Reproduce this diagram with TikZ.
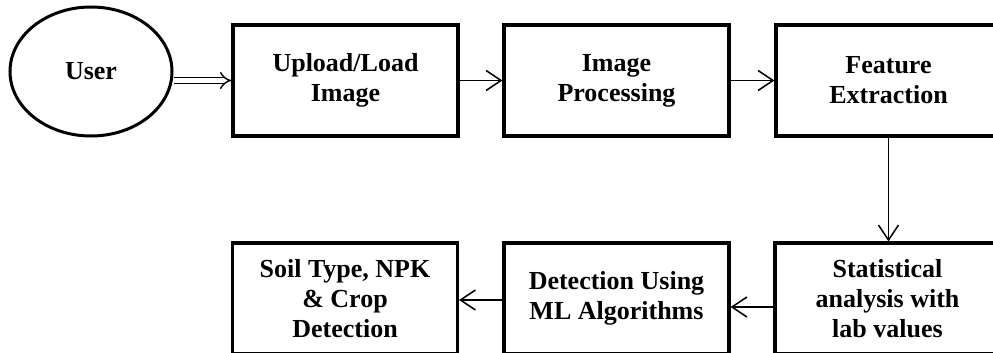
\documentclass[tikz,border=0pt]{standalone}
\usepackage{fontspec}
\setmainfont{Liberation Serif}
\usetikzlibrary{arrows.meta,shapes.geometric}
\begin{document}
\begin{tikzpicture}[x=1pt,y=-1pt,
  stepbox/.style={draw,line width=3.2pt,rectangle,minimum width=225pt,minimum height=111pt,inner sep=0pt,
    align=center,font=\fontsize{26}{30}\selectfont\bfseries},
  userell/.style={draw,line width=3pt,ellipse,minimum width=162pt,minimum height=129pt,inner sep=0pt,
    font=\fontsize{26}{30}\selectfont\bfseries},
  arr/.style={line width=1.5pt,-{Straight Barb[length=15pt,width=20pt,line width=1.5pt]}},
  dblarr/.style={double,double distance=4.5pt,line width=1.4pt,-{Implies[length=8pt]}}]
\useasboundingbox (0,0) rectangle (993,353);
\clip (0,0) rectangle (993,353);
\node[userell] (user) at (91,71.5) {User};
\node[stepbox] (upload) at (345.5,80.5) {Upload/Load\\Image};
\node[stepbox] (img) at (616.5,80.5) {Image\\Processing};
\node[stepbox] (feat) at (888.5,80.5) {Feature\\Extraction};
\node[stepbox] (stat) at (887.5,298.5) {Statistical\\analysis with\\lab values};
\node[stepbox] (det) at (616.5,298.5) {Detection Using\\ML Algorithms};
\node[stepbox] (soil) at (345,298.5) {Soil Type, NPK\\\& Crop\\Detection};
\draw[dblarr] (user.east |- upload.west) -- (upload.west);
\draw[arr] (upload) -- (img);
\draw[arr] (img) -- (feat);
\draw[arr] (feat.south) -- (feat.south |- stat.north);
\draw[arr] ([yshift=-8.5pt]stat.west) -- ([yshift=-8.5pt]det.east);
\draw[arr] ([yshift=-1.5pt]det.west) -- ([yshift=-1.5pt]soil.east);
\end{tikzpicture}
\end{document}
